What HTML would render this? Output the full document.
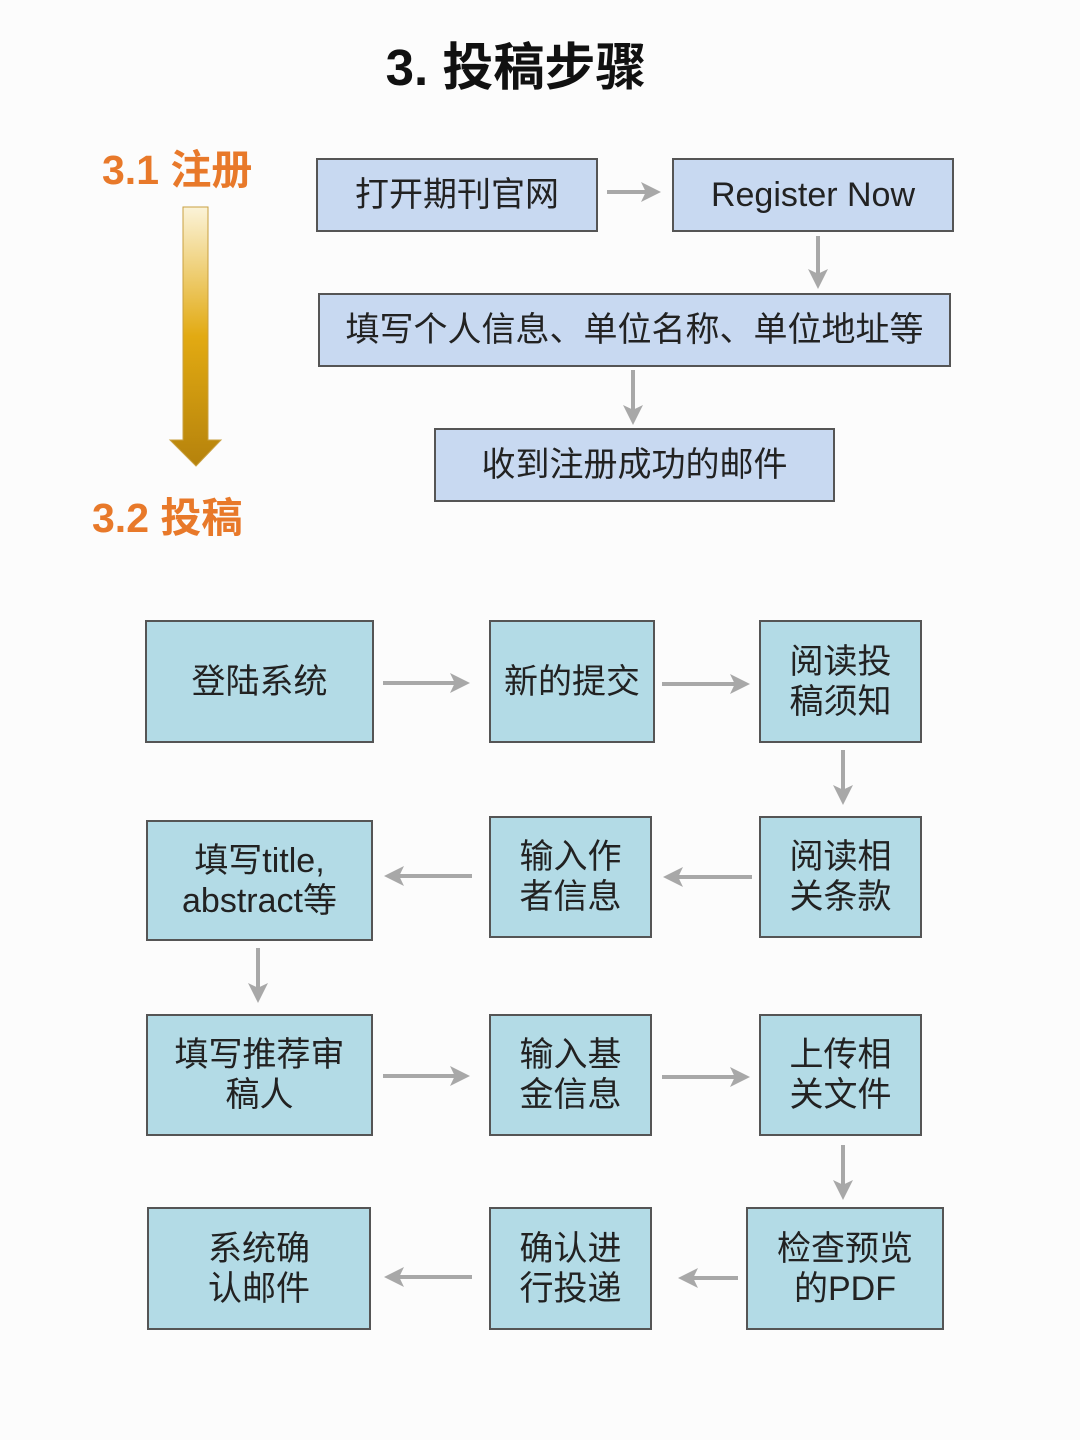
<!DOCTYPE html>
<html><head><meta charset="utf-8"><style>
html,body{margin:0;padding:0;}
body{width:1080px;height:1440px;background:#fcfcfc;position:relative;overflow:hidden;font-family:"Liberation Sans","Noto Sans CJK SC",sans-serif;}
.b{position:absolute;box-sizing:border-box;border:2px solid #555;display:flex;align-items:center;justify-content:center;text-align:center;color:#222;font-size:34px;line-height:40px;}
.t{background:#c8d9f1;}
.s{background:#b3dbe6;}
.o{position:absolute;color:#e8792a;font-weight:bold;font-size:41px;white-space:nowrap;}
</style></head><body>
<div style="position:absolute;left:0;width:1032px;top:26px;text-align:center;font-size:51px;font-weight:bold;color:#111;">3. 投稿步骤</div>
<div class="o" style="left:102px;top:136px;">3.1 注册</div>
<div class="o" style="left:92px;top:484px;">3.2 投稿</div>

<div class="b t" style="left:316px;top:158px;width:282px;height:74px;">打开期刊官网</div>
<div class="b t" style="left:672px;top:158px;width:282px;height:74px;">Register Now</div>
<div class="b t" style="left:318px;top:293px;width:633px;height:74px;">填写个人信息、单位名称、单位地址等</div>
<div class="b t" style="left:434px;top:428px;width:401px;height:74px;">收到注册成功的邮件</div>

<div class="b s" style="left:145px;top:620px;width:229px;height:123px;">登陆系统</div>
<div class="b s" style="left:489px;top:620px;width:166px;height:123px;">新的提交</div>
<div class="b s" style="left:759px;top:620px;width:163px;height:123px;">阅读投<br>稿须知</div>

<div class="b s" style="left:146px;top:820px;width:227px;height:121px;">填写title,<br>abstract等</div>
<div class="b s" style="left:489px;top:816px;width:163px;height:122px;">输入作<br>者信息</div>
<div class="b s" style="left:759px;top:816px;width:163px;height:122px;">阅读相<br>关条款</div>

<div class="b s" style="left:146px;top:1014px;width:227px;height:122px;">填写推荐审<br>稿人</div>
<div class="b s" style="left:489px;top:1014px;width:163px;height:122px;">输入基<br>金信息</div>
<div class="b s" style="left:759px;top:1014px;width:163px;height:122px;">上传相<br>关文件</div>

<div class="b s" style="left:147px;top:1207px;width:224px;height:123px;">系统确<br>认邮件</div>
<div class="b s" style="left:489px;top:1207px;width:163px;height:123px;">确认进<br>行投递</div>
<div class="b s" style="left:746px;top:1207px;width:198px;height:123px;">检查预览<br>的PDF</div>

<svg width="1080" height="1440" style="position:absolute;left:0;top:0;">
<defs>
<linearGradient id="g" x1="0" y1="0" x2="0" y2="1">
<stop offset="0" stop-color="#fbf3d8"/><stop offset="0.5" stop-color="#e2aa12"/><stop offset="1" stop-color="#b5820c"/>
</linearGradient>
<marker id="a" markerWidth="5" markerHeight="5" refX="3.5" refY="2.5" orient="auto" markerUnits="strokeWidth"><path d="M0,0 L5,2.5 L0,5 L1.2,2.5 z" fill="#a8a8a8"/></marker>
</defs>
<path d="M183,207 H208 V440 H221 L196,466 L170,440 H183 Z" fill="url(#g)" stroke="#c9a040" stroke-width="1"/>
<g stroke="#a8a8a8" stroke-width="4" marker-end="url(#a)">
<line x1="607" y1="192" x2="655" y2="192"/>
<line x1="818" y1="236" x2="818" y2="283"/>
<line x1="633" y1="370" x2="633" y2="419"/>
<line x1="383" y1="683" x2="464" y2="683"/>
<line x1="662" y1="684" x2="744" y2="684"/>
<line x1="843" y1="750" x2="843" y2="799"/>
<line x1="472" y1="876" x2="390" y2="876"/>
<line x1="752" y1="877" x2="669" y2="877"/>
<line x1="258" y1="948" x2="258" y2="997"/>
<line x1="383" y1="1076" x2="464" y2="1076"/>
<line x1="662" y1="1077" x2="744" y2="1077"/>
<line x1="843" y1="1145" x2="843" y2="1194"/>
<line x1="472" y1="1277" x2="390" y2="1277"/>
<line x1="738" y1="1278" x2="684" y2="1278"/>
</g>
</svg>
</body></html>
